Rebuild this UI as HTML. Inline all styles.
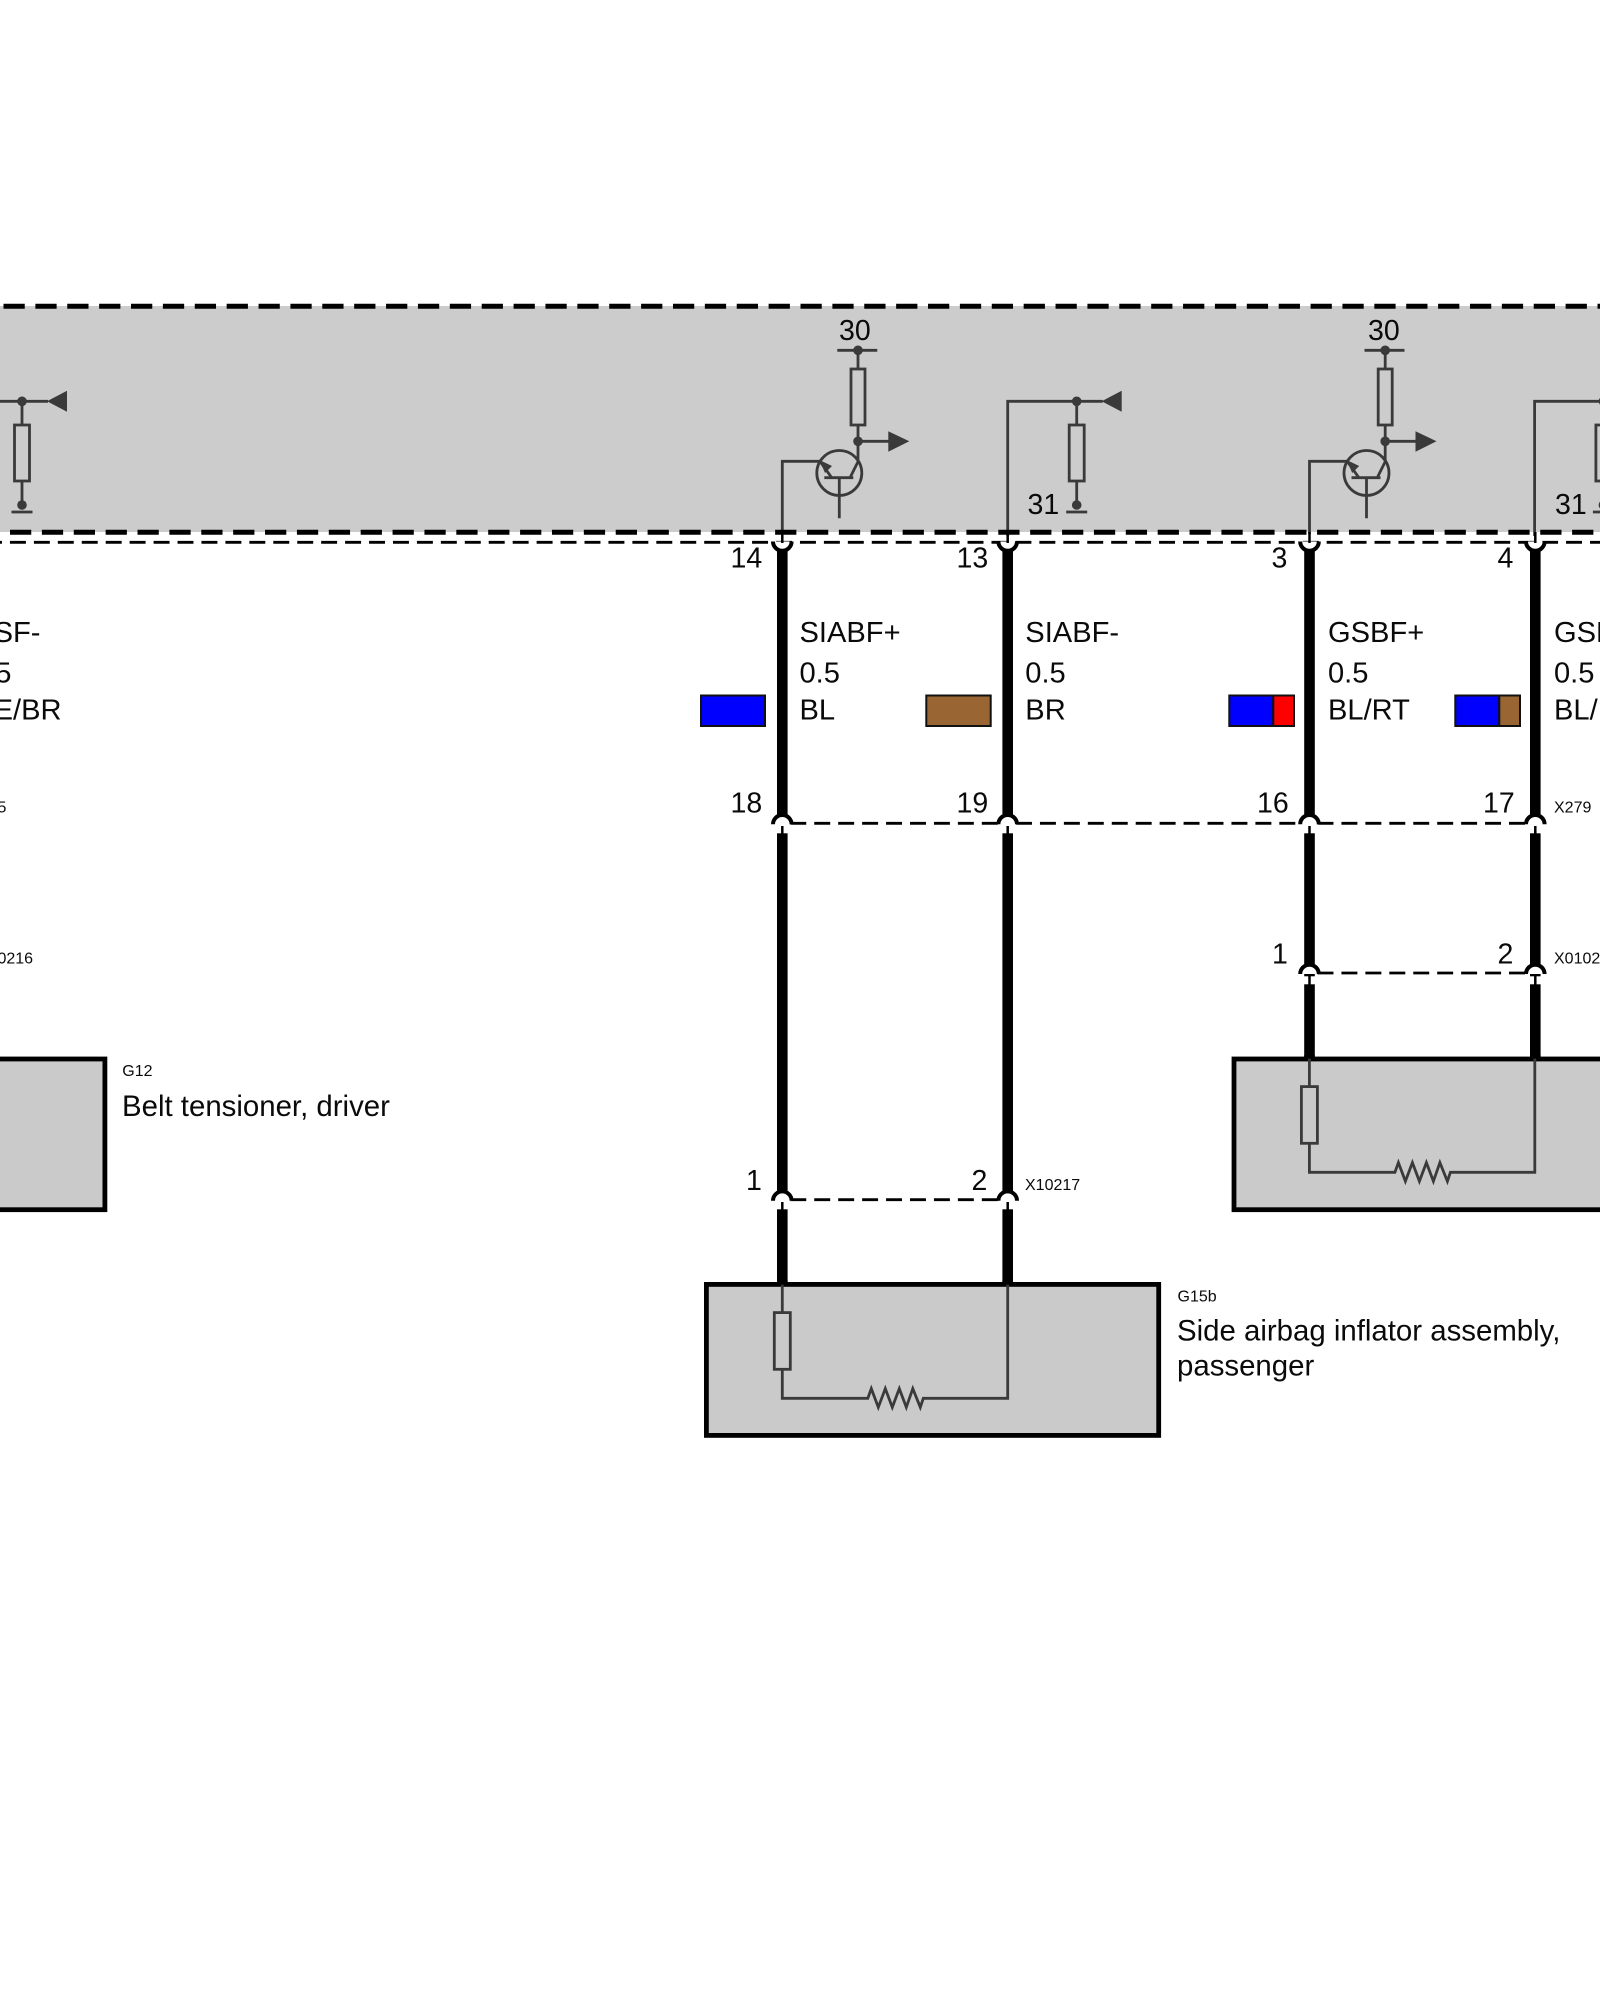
<!DOCTYPE html>
<html>
<head>
<meta charset="utf-8">
<style>
html,body{margin:0;padding:0;background:#fff;width:1600px;height:2000px;overflow:hidden}
svg{display:block}
text{font-family:"Liberation Sans",Arial,sans-serif;fill:#0a0a0a}
.l{font-size:28.5px}
.m{font-size:29.1px}
.b{font-size:29.4px}
.s{font-size:16px}
.c{fill:none;stroke:#3a3a3a;stroke-width:2.8}
.d{fill:#3a3a3a}
.w{fill:#000}
.cap{fill:#fff;stroke:#000;stroke-width:4}
.row{stroke:#000;stroke-width:2.8;stroke-dasharray:15.96 7.98;fill:none}
.box{fill:#cacaca;stroke:#000;stroke-width:4.8}
.sw{stroke:#111;stroke-width:2}
.t{stroke:#000;stroke-width:2.5}
</style>
</head>
<body>
<svg xmlns="http://www.w3.org/2000/svg" width="1600" height="2000" viewBox="0 0 1600 2000">
<defs>
<g id="rc">
  <path class="c" d="M0 505V481M0 425V401"/>
  <rect class="c" x="-7.5" y="425" width="15" height="56"/>
  <circle class="d" cx="0" cy="401.3" r="4.8"/>
  <circle class="d" cx="0" cy="505" r="4.8"/>
  <path class="c" d="M-10.5 512H10.5"/>
  <path class="c" d="M0 401.3H26"/>
  <path class="d" d="M25 401.3L45 390.7V411.7Z"/>
</g>
<g id="tr">
  <path class="c" d="M782.3 534V461.3H820L831.7 477.7"/>
  <circle class="c" cx="839.3" cy="473" r="22.5"/>
  <path class="c" d="M824.3 477.7H853.3M839.3 477.7V518.3M850 477.7L858 461.7V350.3"/>
  <path class="d" d="M819.5 460L832 466L825 473Z"/>
  <path class="c" d="M837.3 350.3H877.3"/>
  <circle class="d" cx="858" cy="350.3" r="4.8"/>
  <rect x="851" y="369" width="14" height="56" fill="#cccccc" stroke="#3a3a3a" stroke-width="2.8"/>
  <circle class="d" cx="858" cy="441.3" r="4.8"/>
  <path class="c" d="M858 441.3H889"/>
  <path class="d" d="M888.3 431.3L909.3 441.3L888.3 451.7Z"/>
</g>
<g id="r">
  <path class="c" d="M0 0V27"/>
  <rect x="-8" y="28" width="16" height="56.7" fill="#cacaca" stroke="#3a3a3a" stroke-width="2.8"/>
  <path class="c" stroke-linejoin="miter" d="M0 85V113.7H85.5L89 104L96 122.7L103 104L110 122.7L117 104L124 122.7L130.5 104L138 122.7L141 113.7H225.4V0"/>
</g>
</defs>

<!-- control unit band -->
<rect x="0" y="306" width="1600" height="226" fill="#cccccc"/>

<!-- left fragment -->
<path class="c" d="M0 401.3H22"/>
<use href="#rc" x="22"/>

<!-- inner circuits -->
<use href="#tr"/>
<use href="#tr" x="527.2"/>
<path class="c" d="M1007.7 536V401.3H1076.7"/>
<use href="#rc" x="1076.7"/>
<path class="c" d="M1534.6 536V401.3H1600"/>
<use href="#rc" x="1603.4"/>

<!-- band dashes -->
<path d="M3.5 306.3H1600" stroke="#000" stroke-width="5" stroke-dasharray="21.25 10.63" fill="none"/>
<path d="M10 532.3H1600" stroke="#000" stroke-width="5" stroke-dasharray="21.25 10.63" fill="none"/>
<path d="M-14 542.3H1600" stroke="#000" stroke-width="2.8" stroke-dasharray="15.96 7.98" fill="none"/>

<!-- inner band labels -->
<text class="l" x="839" y="340">30</text>
<text class="l" x="1368" y="340">30</text>
<text class="l" x="1027.5" y="514">31</text>
<text class="l" x="1555" y="514">31</text>

<!-- row dashes -->
<path class="row" d="M790.3 823.3H1000"/>
<path class="row" d="M1016 823.3H1300"/>
<path class="row" d="M1317.5 823.3H1526"/>
<path class="row" d="M1317.5 973H1526"/>
<path class="row" d="M790.3 1199.7H1000"/>

<!-- wires -->
<rect class="w" x="777" y="550" width="10.6" height="266"/>
<rect class="w" x="777" y="833.3" width="10.6" height="360"/>
<rect class="w" x="777" y="1209.3" width="10.6" height="74"/>
<rect class="w" x="1002.4" y="550" width="10.6" height="266"/>
<rect class="w" x="1002.4" y="833.3" width="10.6" height="360"/>
<rect class="w" x="1002.4" y="1209.3" width="10.6" height="74"/>
<rect class="w" x="1304.2" y="550" width="10.6" height="266"/>
<rect class="w" x="1304.2" y="833.3" width="10.6" height="143"/>
<rect class="w" x="1304.2" y="984.3" width="10.6" height="74"/>
<rect class="w" x="1530" y="550" width="10.6" height="266"/>
<rect class="w" x="1530" y="833.3" width="10.6" height="143"/>
<rect class="w" x="1530" y="984.3" width="10.6" height="74"/>

<!-- top cups -->
<path class="cap" d="M773 541.5A9.3 9.3 0 0 0 791.6 541.5"/>
<path class="cap" d="M998.4 541.5A9.3 9.3 0 0 0 1017 541.5"/>
<path class="cap" d="M1300.2 541.5A9.3 9.3 0 0 0 1318.8 541.5"/>
<path class="cap" d="M1526 541.5A9.3 9.3 0 0 0 1544.6 541.5"/>
<path class="t" d="M782.3 532V543M1007.7 532V543M1309.5 532V543M1535.3 532V543"/>

<!-- lower caps row 823 -->
<path class="cap" d="M773 824.3A9.3 9.3 0 0 1 791.6 824.3"/>
<path class="cap" d="M998.4 824.3A9.3 9.3 0 0 1 1017 824.3"/>
<path class="cap" d="M1300.2 824.3A9.3 9.3 0 0 1 1318.8 824.3"/>
<path class="cap" d="M1526 824.3A9.3 9.3 0 0 1 1544.6 824.3"/>
<path class="t" d="M782.3 826V834M1007.7 826V834M1309.5 826V834M1535.3 826V834"/>

<!-- row 973 -->
<path class="cap" d="M1300.2 974A9.3 9.3 0 0 1 1318.8 974"/>
<path class="cap" d="M1526 974A9.3 9.3 0 0 1 1544.6 974"/>
<path class="t" d="M1309.5 976V985M1535.3 976V985"/>

<!-- row 1200 -->
<path class="cap" d="M773 1200.7A9.3 9.3 0 0 1 791.6 1200.7"/>
<path class="cap" d="M998.4 1200.7A9.3 9.3 0 0 1 1017 1200.7"/>
<path class="t" d="M782.3 1202V1210M1007.7 1202V1210"/>

<!-- component boxes -->
<rect class="box" x="-10" y="1059" width="114.9" height="150.7"/>
<rect class="box" x="1234" y="1059" width="380" height="150.7"/>
<rect class="box" x="706.4" y="1284.4" width="452.3" height="151"/>
<rect class="w" x="777" y="1280" width="10.6" height="6"/>
<rect class="w" x="1002.4" y="1280" width="10.6" height="6"/>
<rect class="w" x="1304.2" y="1055" width="10.6" height="6"/>
<rect class="w" x="1530" y="1055" width="10.6" height="6"/>
<use href="#r" x="782.3" y="1284.6"/>
<use href="#r" x="1309.4" y="1058.6"/>

<!-- swatches -->
<rect class="sw" x="701" y="695.5" width="64" height="30.5" fill="#0000ff"/>
<rect class="sw" x="926.3" y="695.5" width="64.4" height="30.5" fill="#996633"/>
<rect class="sw" x="1229.3" y="695.5" width="44" height="30.5" fill="#0000ff"/>
<rect class="sw" x="1273.3" y="695.5" width="20.7" height="30.5" fill="#ff0000"/>
<rect class="sw" x="1455.3" y="695.5" width="44" height="30.5" fill="#0000ff"/>
<rect class="sw" x="1499.3" y="695.5" width="20.7" height="30.5" fill="#996633"/>

<!-- wire labels -->
<text class="m" x="-29" y="642">GSF-</text>
<text class="m" x="-29" y="682.7">0.5</text>
<text class="m" x="-29" y="719.5">GE/BR</text>
<text class="m" x="799.5" y="642">SIABF+</text>
<text class="m" x="799.5" y="682.7">0.5</text>
<text class="m" x="799.5" y="719.5">BL</text>
<text class="m" x="1025.3" y="642">SIABF-</text>
<text class="m" x="1025.3" y="682.7">0.5</text>
<text class="m" x="1025.3" y="719.5">BR</text>
<text class="m" x="1328" y="642">GSBF+</text>
<text class="m" x="1328" y="682.7">0.5</text>
<text class="m" x="1328" y="719.5">BL/RT</text>
<text class="m" x="1554" y="642">GSBF-</text>
<text class="m" x="1554" y="682.7">0.5</text>
<text class="m" x="1554" y="719.5">BL/BR</text>

<!-- pins -->
<text class="l" x="730.5" y="567.7">14</text>
<text class="l" x="956.5" y="567.7">13</text>
<text class="l" x="1271.5" y="567.7">3</text>
<text class="l" x="1497.5" y="567.7">4</text>
<text class="l" x="730.5" y="812.7">18</text>
<text class="l" x="956.5" y="812.7">19</text>
<text class="l" x="1257" y="812.7">16</text>
<text class="l" x="1483" y="812.7">17</text>
<text class="l" x="1272" y="963.5">1</text>
<text class="l" x="1497.5" y="963.5">2</text>
<text class="l" x="746" y="1190">1</text>
<text class="l" x="971.5" y="1190">2</text>

<!-- connector ids -->
<text class="s" x="-31" y="812.7">X275</text>
<text class="s" x="1554" y="812.7">X279</text>
<text class="s" x="-31" y="963.3">X010216</text>
<text class="s" x="1554" y="963.3">X01020</text>
<text class="s" x="1025" y="1190">X10217</text>

<!-- component labels -->
<text class="s" x="122.3" y="1076">G12</text>
<text class="b" x="122" y="1116">Belt tensioner, driver</text>
<text class="s" x="1177.5" y="1301.5">G15b</text>
<text class="b" x="1177" y="1340.7">Side airbag inflator assembly,</text>
<text class="b" x="1177" y="1375.5">passenger</text>
</svg>
</body>
</html>
